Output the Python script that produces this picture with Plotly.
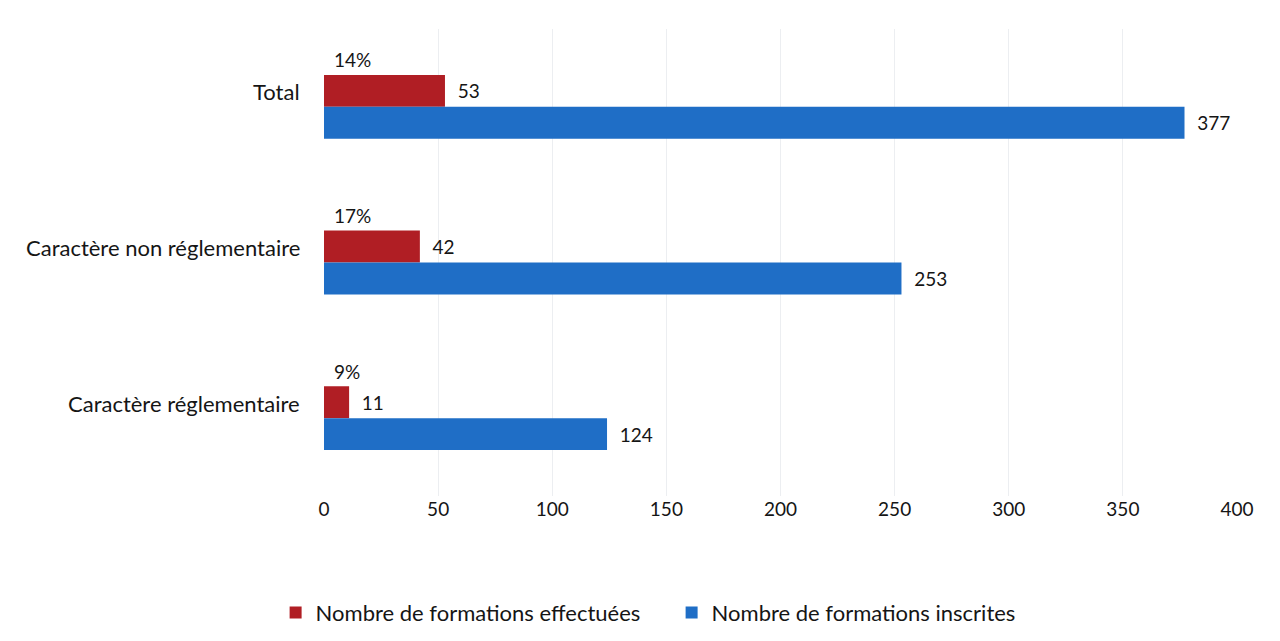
import plotly.graph_objects as go

categories = ["Total", "Caractère non réglementaire", "Caractère réglementaire"]
effectuees = [53, 42, 11]
inscrites = [377, 253, 124]
tick_values = [0, 50, 100, 150, 200, 250, 300, 350, 400]

FONT = "Lato"
RED = "#B01E24"
BLUE = "#1F6EC6"
TXT = "#151515"

fig = go.Figure()
fig.add_trace(go.Bar(
    y=categories, x=effectuees, orientation="h", name="Nombre de formations effectuées",
    marker=dict(color=RED, line=dict(width=0)),
    text=effectuees, texttemplate="  %{x}", textposition="outside",
    textfont=dict(family=FONT, size=19, color=TXT), cliponaxis=False,
))
fig.add_trace(go.Bar(
    y=categories, x=inscrites, orientation="h", name="Nombre de formations inscrites",
    marker=dict(color=BLUE, line=dict(width=0)),
    text=inscrites, texttemplate="  %{x}", textposition="outside",
    textfont=dict(family=FONT, size=19, color=TXT), cliponaxis=False,
))

for cat, e, i in zip(categories, effectuees, inscrites):
    pct = round(100 * e / i)
    fig.add_annotation(
        x=0, y=cat, xref="x", yref="y", text=f"{pct}%", showarrow=False,
        xanchor="left", yanchor="middle", xshift=8, yshift=47,
        font=dict(family=FONT, size=19, color=TXT),
    )
    # category label (sits slightly above the group centre, as in the source)
    fig.add_annotation(
        x=0, y=cat, xref="paper", yref="y", text=cat, showarrow=False,
        xanchor="right", yanchor="middle", xshift=-22, yshift=15,
        font=dict(family=FONT, size=22, color=TXT),
    )

fig.update_layout(
    width=1280, height=641,
    paper_bgcolor="white", plot_bgcolor="white",
    margin=dict(l=316, r=51, t=21, b=153),
    barmode="group", bargap=0.59, bargroupgap=0,
    font=dict(family=FONT, size=19, color=TXT),
    showlegend=True,
    legend=dict(orientation="h", x=-0.053, xanchor="left", y=-0.25, yanchor="middle",
                font=dict(family=FONT, size=22, color=TXT),
                itemwidth=30, traceorder="normal", entrywidth=351),
    xaxis=dict(range=[0, 400], tickvals=tick_values, showgrid=True,
               gridcolor="#ECEEF1", gridwidth=1, zeroline=False, showline=False,
               tickfont=dict(family=FONT, size=19, color=TXT), ticks=""),
    yaxis=dict(autorange="reversed", showgrid=False, zeroline=False, showline=False,
               ticks="", showticklabels=False),
)

fig.write_html("out.html")
